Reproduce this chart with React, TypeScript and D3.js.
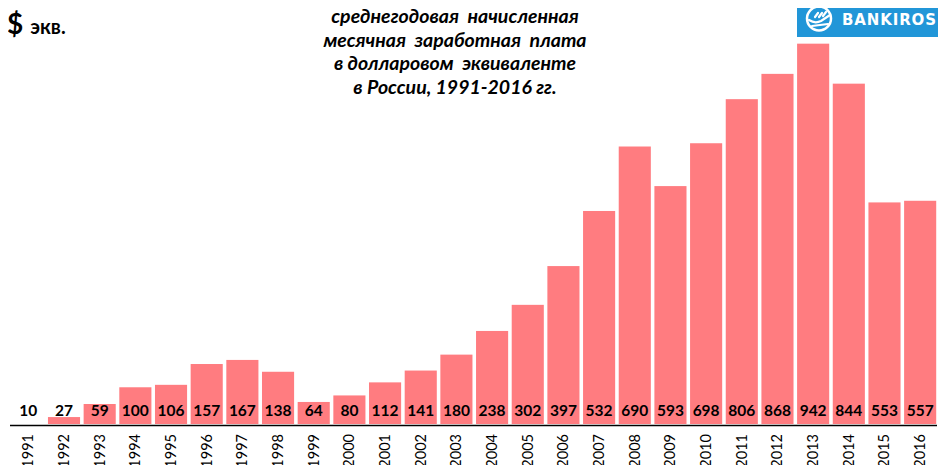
import { useEffect, useRef } from "react";
import * as d3 from "d3";

const years = [
  "1991", "1992", "1993", "1994", "1995", "1996", "1997", "1998", "1999",
  "2000", "2001", "2002", "2003", "2004", "2005", "2006", "2007", "2008",
  "2009", "2010", "2011", "2012", "2013", "2014", "2015", "2016",
];
const wages = [
  10, 27, 59, 100, 106, 157, 167, 138, 64, 80, 112, 141, 180, 238, 302, 397,
  532, 690, 593, 698, 806, 868, 942, 844, 553, 557,
];
const titleLines = [
  "среднегодовая  начисленная",
  "месячная  заработная  плата",
  "в долларовом  эквиваленте",
  "в России, 1991-2016 гг.",
];

const W = 946;
const H = 473;
const FONT = "Lato, 'Open Sans', sans-serif";

const App = () => {
  const svgRef = useRef<SVGSVGElement | null>(null);

  useEffect(() => {
    const svg = d3.select(svgRef.current);
    svg.selectAll("*").remove();

    const baseline = 424;

    const x = d3
      .scaleBand()
      .domain(years)
      .range([10.5, 938])
      .paddingInner(0.1)
      .paddingOuter(0.05);

    // axis min sits at about 10, so 1991 has no visible bar
    const y = d3.scaleLinear().domain([10, 1000]).range([baseline, 20]);

    svg.append("rect")
      .attr("x", 0.5).attr("y", 0.5)
      .attr("width", W - 1).attr("height", H - 1)
      .attr("fill", "white")
      .attr("stroke", "#8a8a8a");

    // bars
    svg.append("g")
      .selectAll("rect")
      .data(wages)
      .join("rect")
      .attr("x", (_, i) => x(years[i]) ?? 0)
      .attr("y", (d) => y(d))
      .attr("width", x.bandwidth())
      .attr("height", (d) => baseline - y(d))
      .attr("fill", "#ff7c80");

    // value labels
    svg.append("g")
      .selectAll("text")
      .data(wages)
      .join("text")
      .attr("x", (_, i) => (x(years[i]) ?? 0) + x.bandwidth() / 2)
      .attr("y", 416)
      .attr("text-anchor", "middle")
      .attr("font-family", FONT)
      .attr("font-weight", "bold")
      .attr("font-size", 15.5)
      .attr("fill", "#000")
      .text((d) => d);

    // axis line
    svg.append("line")
      .attr("x1", 10).attr("x2", 937)
      .attr("y1", baseline + 1.5).attr("y2", baseline + 1.5)
      .attr("stroke", "#000")
      .attr("stroke-width", 1.5);

    // year labels
    svg.append("g")
      .selectAll("text")
      .data(years)
      .join("text")
      .attr("transform", (d) =>
        `translate(${(x(d) ?? 0) + x.bandwidth() / 2 + 5},434) rotate(-90)`)
      .attr("text-anchor", "end")
      .attr("font-family", FONT)
      .attr("font-size", 14.5)
      .attr("fill", "#000")
      .text((d) => d);

    // unit label
    const unit = svg.append("text")
      .attr("x", 7).attr("y", 34)
      .attr("font-family", FONT)
      .attr("font-weight", "bold")
      .attr("fill", "#000");
    unit.append("tspan").attr("font-size", 28).text("$");
    unit.append("tspan").attr("font-size", 20).attr("dx", 7).text("экв.");

    // title
    svg.append("g")
      .selectAll("text")
      .data(titleLines)
      .join("text")
      .attr("x", 455)
      .attr("y", (_, i) => 23 + i * 23.5)
      .attr("text-anchor", "middle")
      .attr("font-family", FONT)
      .attr("font-weight", "bold")
      .attr("font-style", "italic")
      .attr("font-size", 19.5)
      .attr("fill", "#000")
      .style("white-space", "pre")
      .text((d) => d);

    // logo
    const logo = svg.append("g").attr("transform", "translate(797,0)");
    logo.append("rect")
      .attr("width", 149).attr("height", 37)
      .attr("fill", "#2196d8");
    logo.append("circle")
      .attr("cx", 22).attr("cy", 18.5).attr("r", 12)
      .attr("fill", "none").attr("stroke", "white").attr("stroke-width", 2.5);
    logo.append("path")
      .attr("d", "M12,20 Q18,24 24,21 L33,15 M15,26 L31,24 M18,17 L21,13 M22,17 L25,13 M26,16 L29,12")
      .attr("fill", "none").attr("stroke", "white")
      .attr("stroke-width", 2.2).attr("stroke-linecap", "round");
    logo.append("text")
      .attr("x", 45).attr("y", 24.5)
      .attr("font-family", "'DejaVu Sans', sans-serif")
      .attr("font-weight", "bold")
      .attr("font-size", 15)
      .attr("textLength", 94)
      .attr("lengthAdjust", "spacing")
      .attr("fill", "white")
      .text("BANKIROS");
  }, []);

  return (
    <div style={{ margin: -8, width: W, height: H }}>
      <svg ref={svgRef} width={W} height={H} style={{ display: "block" }} />
    </div>
  );
};

export default App;
